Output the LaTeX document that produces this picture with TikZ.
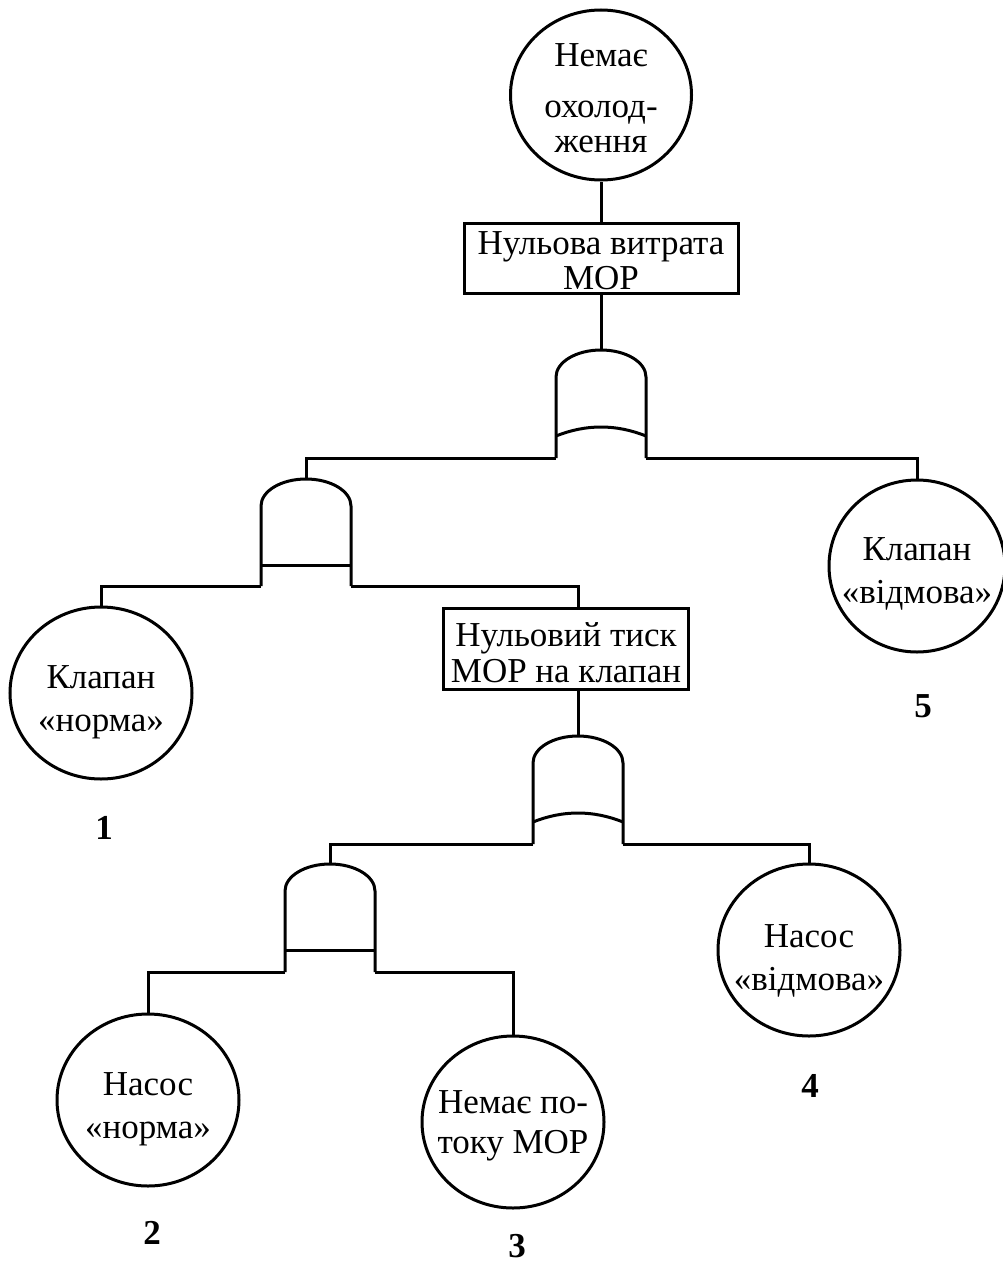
\documentclass[tikz,border=0pt]{standalone}
\usepackage{fontspec}
\setmainfont{Liberation Serif}
\usetikzlibrary{shapes.geometric}

\tikzset{
  ev/.style={draw, ellipse, minimum width=182pt, minimum height=172pt, inner sep=0pt},
  evtext/.style={align=center, inner sep=0pt, font=\fontsize{35}{43}\selectfont},
  bx/.style={draw, rectangle, inner sep=0pt},
  bxtext/.style={align=center, inner sep=0pt, font=\fontsize{35}{35}\selectfont},
  num/.style={font=\fontsize{35}{35}\selectfont\bfseries},
}

\begin{document}
\begin{tikzpicture}[x=1pt, y=-1pt, line width=3pt, font=\fontsize{35}{40}\selectfont]
    \useasboundingbox (0,0) rectangle (1002,1263);

    % top event and first box
    \node[ev, minimum width=181pt, minimum height=170pt,
      label={[evtext, yshift=-3pt, font=\fontsize{35}{35}\selectfont]center:Немає\\[16pt]охолод-\\ження}] (nocool) at (601,95) {};
    \node[bx, minimum width=274pt, minimum height=70pt,
      label={[bxtext, yshift=-3pt]center:Нульова витрата\\МОР}] (flow0) at (601,258) {};

    % OR gate 1
    \coordinate (or1t) at (601,350);
    \coordinate (or1l) at (556,458);
    \coordinate (or1r) at (646,458);
    \draw (or1l) -- (556,377) arc[start angle=180, end angle=360, x radius=45, y radius=27] -- (or1r);
    \draw (556,436) .. controls (586,424) and (616,424) .. (646,436);

    % AND gate 1
    \coordinate (and1t) at (306,479);
    \coordinate (and1l) at (261,586);
    \coordinate (and1r) at (351,586);
    \draw (and1l) -- (261,506) arc[start angle=180, end angle=360, x radius=45, y radius=27] -- (and1r);
    \draw (261,565) -- (351,565);

    % OR gate 2
    \coordinate (or2t) at (578,736);
    \coordinate (or2l) at (533,844);
    \coordinate (or2r) at (623,844);
    \draw (or2l) -- (533,763) arc[start angle=180, end angle=360, x radius=45, y radius=27] -- (or2r);
    \draw (533,822) .. controls (563,810) and (593,810) .. (623,822);

    % AND gate 2
    \coordinate (and2t) at (330,864);
    \coordinate (and2l) at (285,972);
    \coordinate (and2r) at (375,972);
    \draw (and2l) -- (285,891) arc[start angle=180, end angle=360, x radius=45, y radius=27] -- (and2r);
    \draw (285,950) -- (375,950);

    % events
    \node[ev, label={[evtext, yshift=-9pt]center:Клапан\\«норма»}] (valveok) at (101,693) {};
    \node[ev, minimum width=176pt, label={[evtext, yshift=-8pt]center:Клапан\\«відмова»}] (valvefail) at (917,566) {};
    \node[bx, minimum width=245pt, minimum height=81pt,
      label={[bxtext, yshift=-4pt, font=\fontsize{35}{36}\selectfont]center:Нульовий тиск\\МОР на клапан}] (press0) at (566,649) {};
    \node[ev, label={[evtext, yshift=-11pt]center:Насос\\«відмова»}] (pumpfail) at (809,950) {};
    \node[ev, label={[evtext, yshift=-9pt]center:Насос\\«норма»}] (pumpok) at (148,1100) {};
    \node[ev, label={[evtext, yshift=-4pt, font=\fontsize{35}{40}\selectfont]center:Немає по-\\току МОР}] (noflow) at (513,1122) {};

    % numbers
    \node[num] (n1) at (104,828) {1};
    \node[num] (n2) at (152,1233) {2};
    \node[num] (n3) at (517,1246) {3};
    \node[num] (n4) at (810,1086) {4};
    \node[num] (n5) at (923,706) {5};

    % connectors
    \draw (nocool.south) -- (flow0.north);
    \draw (flow0.south) -- (or1t);
    \draw (or1l) -| (and1t);
    \draw (or1r) -| (valvefail.north);
    \draw (and1l) -| (valveok.north);
    \draw (and1r) -| (press0.north -| or2t);
    \draw (press0.south -| or2t) -- (or2t);
    \draw (or2l) -| (and2t);
    \draw (or2r) -| (pumpfail.north);
    \draw (and2l) -| (pumpok.north);
    \draw (and2r) -| (noflow.north);
\end{tikzpicture}
\end{document}
